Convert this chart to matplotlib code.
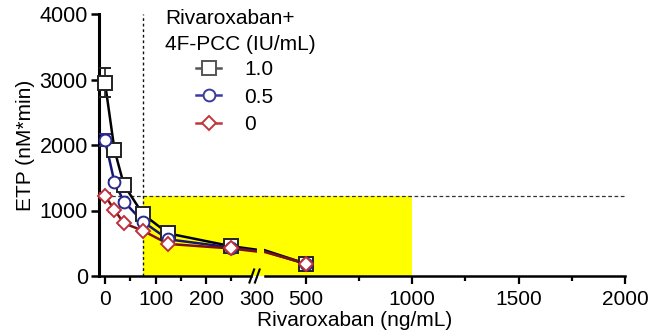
import numpy as np
import matplotlib
matplotlib.use("Agg")
import matplotlib.pyplot as plt
from matplotlib.lines import Line2D
from matplotlib.patches import Rectangle

plt.rcParams['font.family'] = ['Liberation Sans', 'DejaVu Sans']

# data
conc = np.array([0, 18.75, 37.5, 75, 125, 250, 500])
etp_10 = np.array([2950, 1925, 1390, 945, 650, 455, 190])
err_10 = np.array([220, 40, 40, 50, 40, 50, 30])
etp_05 = np.array([2075, 1430, 1135, 830, 560, 435, 185])
err_05 = np.array([90, 30, 30, 30, 30, 30, 20])
etp_00 = np.array([1225, 1008, 805, 692, 490, 420, 190])
err_00 = np.array([40, 30, 20, 20, 20, 20, 15])

labels = ['1.0', '0.5', '0']
series = [etp_10, etp_05, etp_00]
errors = [err_10, err_05, err_00]
markers = ['s', 'o', 'D']
msizes = [9.5, 8.5, 7]
edge_cols = ['#222222', '#2a2a90', '#c0303a']
line_cols = ['#000000', '#151575', '#7a1010']

target_etp = 1226
target_low = 75
target_high = 1000

W, H = 656, 332
fig = plt.figure(figsize=(W / 100, H / 100), dpi=100)

def fx(px):
    return px / W

def fy(py):
    return 1 - py / H

y0, y1 = 276, 14
axL = fig.add_axes([fx(99), fy(y0), fx(256.5 - 99), (y0 - y1) / H])
axR = fig.add_axes([fx(264), fy(y0), fx(625 - 264), (y0 - y1) / H])
axR.set_facecolor('none')

axL.set_xlim(-11.9, 300)
axR.set_xlim(305, 2000)
for ax in (axL, axR):
    ax.set_ylim(0, 4000)

# shaded target region
axL.add_patch(Rectangle((target_low, 0), 320 - target_low, target_etp,
                        facecolor='#ffff00', edgecolor='none', zorder=0, clip_on=False))
axR.add_patch(Rectangle((305, 0), target_high - 305, target_etp,
                        facecolor='#ffff00', edgecolor='none', zorder=0))

axL.axhline(target_etp, 0, 1.06, color='#333333', lw=0.9, ls=(0, (3, 2)),
            clip_on=False, zorder=1)
axR.axhline(target_etp, color='#333333', lw=0.9, ls=(0, (3, 2)), zorder=1)
axL.axvline(target_low, color='#111111', lw=1.0, ls=(0, (2, 2)), zorder=1)

for ax in (axL, axR):
    lo, hi = ax.get_xlim()
    m = (conc >= lo) & (conc <= hi)
    for vals, err, mk, ms, ec, lc in zip(series, errors, markers, msizes, edge_cols, line_cols):
        ax.plot(conc, vals, '-', color=lc, lw=1.8, zorder=3)
        ax.errorbar(conc[m], vals[m], yerr=err[m], fmt=mk, ms=ms, mfc='white',
                    mec=ec, mew=1.4, ecolor=ec, elinewidth=1.2, capsize=4,
                    zorder=4, clip_on=False)

# axes styling
for ax in (axL, axR):
    ax.spines['top'].set_visible(False)
    ax.spines['right'].set_visible(False)
    ax.spines['bottom'].set_linewidth(1.8)
    ax.tick_params(axis='x', which='major', length=6, width=1.6, labelsize=15, pad=4)
    ax.tick_params(axis='x', which='minor', length=3.5, width=1.6)

axL.spines['left'].set_linewidth(2.2)
axL.spines['bottom'].set_bounds(-11.9, 290)
axL.set_yticks([0, 1000, 2000, 3000, 4000])
axL.tick_params(axis='y', length=6, width=1.8, labelsize=15.5, pad=2)
axL.set_xticks([0, 100, 200, 300])
axL.set_xticks([50, 150, 250], minor=True)
axL.xaxis.get_major_ticks()[-1].tick1line.set_visible(False)
axL.set_ylabel('ETP (nM*min)', fontsize=15, labelpad=3)

axR.spines['left'].set_visible(False)
axR.spines['bottom'].set_bounds(310, 2000)
axR.set_yticks([])
axR.set_xticks([500, 1000, 1500, 2000])
axR.set_xticks([750, 1250, 1750], minor=True)

# axis break marks
for dx in (0.0, 0.035):
    axL.plot([0.955 + dx, 0.985 + dx], [-0.025, 0.025], transform=axL.transAxes,
             color='black', lw=1.5, clip_on=False, zorder=5)

fig.text(fx(355), fy(330), 'Rivaroxaban (ng/mL)', ha='center', va='bottom', fontsize=15)

# legend
fig.text(fx(165), fy(9), 'Rivaroxaban+\n4F-PCC (IU/mL)', ha='left', va='top',
         fontsize=15, linespacing=1.5)
leg_edge = ['#555555', '#3a3aa0', '#c0363c']
handles = [Line2D([], [], color=c, lw=1.8, marker=mk, ms=ms, mfc='white', mec=c, mew=1.4)
           for c, mk, ms in zip(leg_edge, markers, msizes)]
fig.legend(handles, labels, loc='upper left', bbox_to_anchor=(fx(196), fy(60)),
           frameon=False, fontsize=15, handlelength=1.2, handletextpad=1.1,
           labelspacing=0.42, borderpad=0, borderaxespad=0)

fig.savefig('out.png', dpi=100)
